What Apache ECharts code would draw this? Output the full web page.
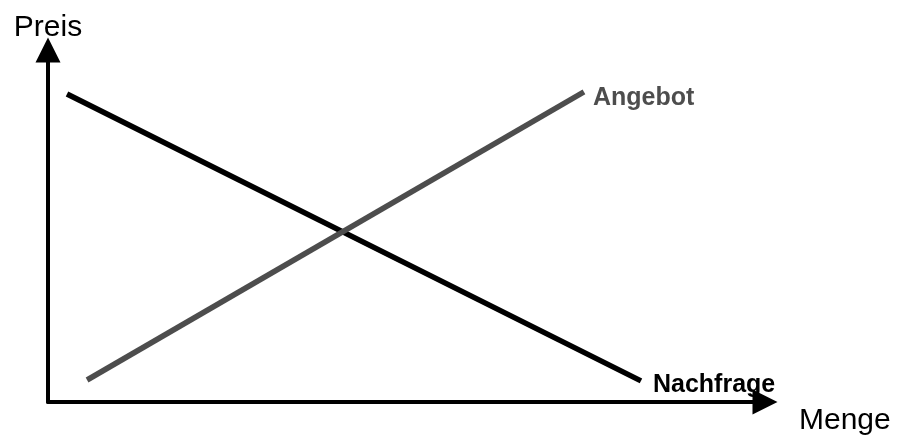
<!DOCTYPE html>
<html>
<head>
<meta charset="utf-8">
<title>Angebot und Nachfrage</title>
<script src="https://cdn.jsdelivr.net/npm/echarts@6/dist/echarts.min.js"></script>
<style>
  html, body { margin: 0; padding: 0; background: #fff; }
  #main { width: 898px; height: 437px; }
</style>
</head>
<body>
<div id="main"></div>
<script>
// Punkte der beiden Kurven (Menge, Preis), Achsen laufen 0..100
const nachfrage = [[2.65, 87.5], [82.7, 6.0]]
const angebot = [[5.45, 6.25], [74.75, 88.1]]
const achsenNamen = { x: 'Menge', y: 'Preis' }
const kurvenNamen = { nachfrage: 'Nachfrage', angebot: 'Angebot' }

const font = 'Liberation Sans, Arial, sans-serif'

const axisLine = {
  show: true,
  symbol: ['none', 'triangle'],
  symbolSize: [25, 25],
  lineStyle: { color: '#000', width: 4 }
}

let option = {
  animation: false,
  grid: { left: 48, right: 133, top: 50, bottom: 35 },
  xAxis: {
    type: 'value',
    min: 0,
    max: 100,
    name: achsenNamen.x,
    nameLocation: 'end',
    nameGap: 34,
    nameTextStyle: {
      fontFamily: font, fontSize: 30, color: '#000',
      verticalAlign: 'top', padding: [4, 0, 0, 0]
    },
    axisLine: axisLine,
    axisTick: { show: false },
    axisLabel: { show: false },
    splitLine: { show: false }
  },
  yAxis: {
    type: 'value',
    min: 0,
    max: 100,
    name: achsenNamen.y,
    nameLocation: 'end',
    nameGap: 7,
    nameTextStyle: { fontFamily: font, fontSize: 30, color: '#000' },
    axisLine: axisLine,
    axisTick: { show: false },
    axisLabel: { show: false },
    splitLine: { show: false }
  },
  series: [
    {
      name: kurvenNamen.nachfrage,
      type: 'line',
      data: nachfrage,
      symbol: 'none',
      lineStyle: { color: '#000', width: 5.5, cap: 'butt' },
      endLabel: {
        show: true,
        formatter: kurvenNamen.nachfrage,
        distance: 12,
        offset: [0, 4],
        fontFamily: font,
        fontSize: 25,
        fontWeight: 'bold',
        color: '#000'
      },
      z: 2
    },
    {
      name: kurvenNamen.angebot,
      type: 'line',
      data: angebot,
      symbol: 'none',
      lineStyle: { color: '#4d4d4d', width: 5.5, cap: 'butt' },
      endLabel: {
        show: true,
        formatter: kurvenNamen.angebot,
        distance: 9,
        offset: [0, 6],
        fontFamily: font,
        fontSize: 25,
        fontWeight: 'bold',
        color: '#4d4d4d'
      },
      z: 3
    }
  ]
}

let myChart = echarts.init(document.getElementById('main'), null, { renderer: 'canvas' })
myChart.setOption(option)
window.onresize = () => {
  myChart.resize()
}
</script>
</body>
</html>
